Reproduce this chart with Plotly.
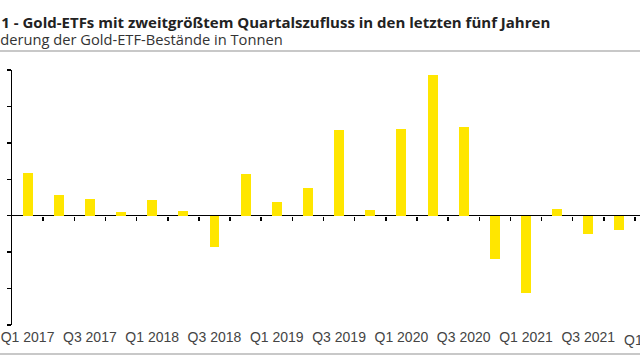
import plotly.graph_objects as go

categories = ["Q1 2017", "Q2 2017", "Q3 2017", "Q4 2017",
              "Q1 2018", "Q2 2018", "Q3 2018", "Q4 2018",
              "Q1 2019", "Q2 2019", "Q3 2019", "Q4 2019",
              "Q1 2020", "Q2 2020", "Q3 2020", "Q4 2020",
              "Q1 2021", "Q2 2021", "Q3 2021", "Q4 2021",
              "Q1 2022"]
flows_tonnes = [118, 58, 47, 11,
                44, 14, -85, 115,
                38, 77, 236, 16,
                238, 386, 244, -118,
                -211, 19, -49, -38,
                270]
tick_labels = categories[::2]
title_text = "Grafik 1 - Gold-ETFs mit zweitgrößtem Quartalszufluss in den letzten fünf Jahren"
subtitle_text = "Veränderung der Gold-ETF-Bestände in Tonnen"

W, H = 640, 360
ML, MR, MT, MB = 12, 0, 70, 35
x_range = [-0.5, 19.66]
y_range = [-300, 400]
plot_w = W - ML - MR
plot_h = H - MT - MB

def px_x(v):
    return (v - ML) / plot_w

def px_y(v):
    return 1 + (MT - v) / plot_h

fig = go.Figure()
fig.add_trace(go.Bar(
    x=categories, y=flows_tonnes, width=0.32,
    marker=dict(color="#FFE600", line=dict(width=0)),
    hoverinfo="skip", showlegend=False,
))
# helper trace to carry the zero-line axis with boundary ticks
fig.add_trace(go.Scatter(
    x=[0], y=[0], xaxis="x2", yaxis="y", mode="markers",
    marker=dict(opacity=0), hoverinfo="skip", showlegend=False,
))

tick_font = dict(family="Liberation Sans, Arial, sans-serif", size=14, color="#444444")

fig.update_layout(
    width=W, height=H,
    margin=dict(l=ML, r=MR, t=MT, b=MB, pad=0, autoexpand=False),
    paper_bgcolor="white", plot_bgcolor="white",
    bargap=0, hovermode=False,
    xaxis=dict(
        type="category", range=x_range, automargin=False,
        tickmode="array", tickvals=tick_labels, ticktext=tick_labels,
        showline=False, ticks="", showgrid=False, zeroline=False,
        tickfont=tick_font, ticklabelstandoff=2,
    ),
    xaxis2=dict(
        overlaying="x", anchor="free", position=(0 - y_range[0]) / (y_range[1] - y_range[0]),
        side="bottom", range=x_range, type="linear", automargin=False,
        tickmode="array", tickvals=[i + 0.5 for i in range(len(categories))],
        ticks="outside", ticklen=4, tickwidth=1.5, tickcolor="black",
        showticklabels=False, showline=False, showgrid=False, zeroline=False,
    ),
    yaxis=dict(
        range=y_range, dtick=100, tick0=0, automargin=False,
        showline=True, linecolor="black", linewidth=1.5,
        ticks="outside", ticklen=4, tickwidth=1.5, tickcolor="black",
        showticklabels=False, showgrid=False,
        zeroline=True, zerolinecolor="black", zerolinewidth=1.5,
    ),
    shapes=[
        dict(type="line", xref="paper", yref="paper",
             x0=px_x(0), x1=px_x(W), y0=px_y(51), y1=px_y(51),
             line=dict(color="#c8c8c8", width=2)),
        dict(type="line", xref="paper", yref="paper",
             x0=px_x(0), x1=px_x(W), y0=px_y(354), y1=px_y(354),
             line=dict(color="#c8c8c8", width=2)),
    ],
    annotations=[
        dict(text="<b>" + title_text + "</b>", xref="paper", yref="paper",
             x=px_x(552), y=px_y(22), xanchor="right", yanchor="middle",
             showarrow=False,
             font=dict(family="Open Sans, sans-serif", size=15, color="#222222")),
        dict(text=subtitle_text, xref="paper", yref="paper",
             x=px_x(285), y=px_y(38.5), xanchor="right", yanchor="middle",
             showarrow=False,
             font=dict(family="Open Sans, sans-serif", size=14.7, color="#333333")),
        # label of the last category, which sits just beyond the visible range
        dict(text=categories[-1], xref="paper", yref="paper",
             x=(len(categories) - 1 - x_range[0]) / (x_range[1] - x_range[0]),
             y=px_y(340), xanchor="center", yanchor="middle",
             showarrow=False, font=tick_font),
    ],
)

fig.write_html("out.html", config={"displayModeBar": False, "staticPlot": True},
               post_script="document.body.style.margin='0';")
